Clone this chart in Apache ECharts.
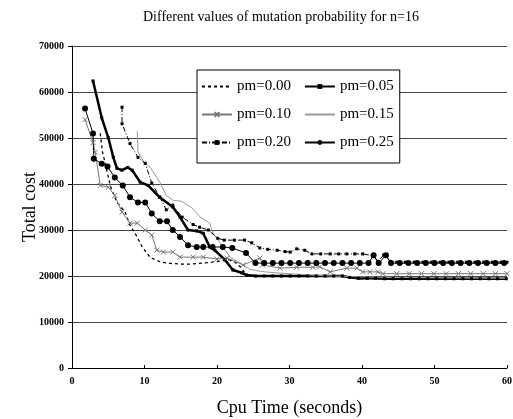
<!DOCTYPE html>
<html>
<head>
<meta charset="utf-8">
<script src="https://cdn.jsdelivr.net/npm/echarts@6/dist/echarts.min.js"></script>
<style>
	html, body { margin: 0; padding: 0; background: #fff; }
	#chart { width: 513px; height: 419px; }
</style>
</head>
<body>
<div id="chart"></div>
<script>
// tick labels
var xTicks = [0, 10, 20, 30, 40, 50, 60];
var yTicks = [0, 10000, 20000, 30000, 40000, 50000, 60000, 70000];
var names = ['pm=0.00', 'pm=0.05', 'pm=0.10', 'pm=0.15', 'pm=0.20', 'pm=0.25'];

// [cpu time (s), total cost]
var pm000 = [
	[3.9, 51000], [4.2, 47000], [4.8, 43000], [5.3, 39500], [6.2, 36000], [7.3, 34000],
	[8.0, 31000], [8.8, 29000], [9.7, 26300], [10.8, 24000], [12.3, 23000], [13.8, 22700],
	[15.2, 22600], [16.5, 22600], [17.9, 22800], [19.3, 23000], [20.6, 23300], [21.5, 23500],
	[22.3, 23300], [23.2, 22000], [24.1, 20200], [26, 20000], [30, 20000], [34, 20000],
	[37, 20000], [38.5, 19600], [40, 19400], [50, 19400], [60, 19400]
];
var pm005 = [
	[2.9, 62400], [4.1, 54400], [5.0, 50100], [5.7, 45800], [6.2, 43400], [6.9, 43000],
	[7.7, 43600], [8.3, 43000], [9.4, 40400], [10.5, 39700], [12.1, 37100], [13.9, 35000],
	[14.9, 32800], [16.0, 30000], [17.2, 29800], [18.1, 29300], [19.0, 26300], [19.7, 25600],
	[21.1, 23500], [22.2, 21300], [23.4, 20700], [24.1, 20200], [25.3, 20000], [26.5, 20000],
	[27.7, 20000], [28.9, 20000], [30.1, 20000], [31.3, 20000], [32.5, 20000], [33.7, 20000],
	[34.9, 20000], [36.1, 20000], [37.3, 20000], [38.3, 19700], [39.5, 19500], [40.7, 19500],
	[41.9, 19500], [43.1, 19400], [44.3, 19400], [45.5, 19400], [46.7, 19400], [47.9, 19400],
	[49.1, 19400], [50.3, 19400], [51.5, 19400], [52.7, 19400], [53.9, 19400], [55.1, 19400],
	[56.3, 19400], [57.5, 19400], [58.7, 19400], [59.9, 19400]
];
var pm010 = [
	[1.8, 54000], [2.9, 49000], [3.2, 46900], [3.9, 39700], [5.0, 39300], [5.9, 37500],
	[6.9, 33900], [8.0, 31500], [9.0, 31500], [10.1, 30000], [11.0, 28900], [11.7, 25600],
	[12.6, 25200], [13.9, 25200], [14.9, 24100], [16.7, 24100], [18.1, 24100], [20.0, 23700],
	[21.4, 23900], [23.6, 22400], [25.9, 23900], [26.3, 22400], [28.7, 21700], [31.0, 21900],
	[33.2, 21900], [34.2, 22000], [35.6, 20900], [37.9, 21700], [39.3, 21700], [40.1, 20900],
	[41.1, 20900], [42.2, 20900], [42.9, 20500], [44.8, 20500], [46.5, 20500], [48.2, 20500],
	[49.9, 20500], [51.6, 20500], [53.3, 20500], [55.0, 20500], [56.7, 20500], [58.4, 20500],
	[60, 20500]
];
var pm015 = [
	[9.0, 51500], [9.1, 47000], [10.0, 44500], [10.8, 43600], [12.1, 40400], [13.0, 37500],
	[14.0, 36400], [15.0, 36300], [16.4, 35000], [17.7, 32800], [19.0, 31500], [19.4, 29500],
	[20.8, 26300], [21.8, 24100], [23.2, 22800], [24.5, 21500], [26, 21000], [28, 20700],
	[30, 20500], [33, 20200], [36, 20000], [40, 19800], [45, 19700], [50, 19600], [60, 19500]
];
var pm020 = [
	[6.9, 56700], [6.9, 53100], [8.0, 48800], [9.1, 45800], [10.1, 44500], [11.0, 40200],
	[12.1, 37200], [13.0, 34400], [13.9, 35400], [15.2, 32800], [16.7, 31200], [17.6, 30600],
	[18.8, 30000], [20.1, 28200], [21.0, 27800], [22.4, 27800], [23.8, 27800], [24.8, 27200],
	[25.9, 26100], [27.0, 25800], [28.3, 25600], [29.4, 25300], [30.1, 25200], [31.0, 25900],
	[32.1, 25600], [33.1, 24800], [34.3, 24800], [35.6, 24800], [36.8, 24800], [37.9, 24800],
	[39.0, 24800], [40.1, 24800], [41.5, 24400], [42.2, 23200], [43.0, 24600], [43.9, 23200],
	[44.8, 23000], [46.0, 23000], [47.2, 23000], [48.4, 23000], [49.6, 23000], [50.8, 23000],
	[52.0, 23000], [53.2, 23000], [54.4, 23000], [55.6, 23000], [56.8, 23000], [58.0, 23000],
	[59.2, 23000], [60, 23000]
];
var pm025 = [
	[1.8, 56400], [2.9, 51000], [3.0, 45500], [4.1, 44400], [4.9, 43800], [5.9, 41400],
	[7.0, 39700], [8.0, 37100], [9.1, 36000], [10.1, 36000], [11.0, 33600], [12.1, 31900],
	[13.1, 31900], [13.9, 30000], [14.9, 28500], [16.0, 26700], [17.2, 26300], [18.1, 26300],
	[19.4, 26300], [20.8, 26300], [22.1, 26100], [24.0, 25000], [25.3, 22800], [26.5, 22800],
	[27.7, 22800], [28.9, 22800], [30.1, 22800], [31.3, 22800], [32.5, 22800], [33.7, 22800],
	[34.9, 22800], [36.1, 22800], [37.3, 22800], [38.5, 22800], [39.7, 22800], [40.9, 22800],
	[41.6, 24500], [42.3, 22800], [43.3, 24500], [44.0, 22800], [45.2, 22800], [46.4, 22800],
	[47.6, 22800], [48.8, 22800], [50.0, 22800], [51.2, 22800], [52.4, 22800], [53.6, 22800],
	[54.8, 22800], [56.0, 22800], [57.2, 22800], [58.4, 22800], [59.6, 22800]
];

var serif = '"Liberation Serif", "DejaVu Serif", serif';
var noMark = { color: 'rgba(0,0,0,0)', borderWidth: 0 };
var chart = echarts.init(document.getElementById('chart'));
var option = {
	animation: false,
	backgroundColor: '#fff',
	title: {
		text: 'Different values of mutation probability for n=16',
		left: 138,
		top: 5,
		textStyle: {
			fontFamily: serif,
			fontSize: 14,
			fontWeight: 'normal',
			color: '#000'
		}
	},
	grid: {
		left: 72,
		right: 6,
		top: 46,
		bottom: 51,
		outerBoundsMode: 'none'
	},
	legend: {
		data: [
			{ name: names[0], itemStyle: noMark },
			{ name: names[1] },
			{ name: names[2] },
			{ name: names[3], itemStyle: noMark },
			{ name: names[4] },
			{ name: names[5] }
		],
		left: 197,
		top: 70,
		width: 200,
		padding: [9, 6, 13, 4],
		itemWidth: 30,
		itemHeight: 6,
		itemGap: 13,
		backgroundColor: '#fff',
		borderColor: '#000',
		borderWidth: 1,
		borderRadius: 0,
		textStyle: {
			fontFamily: serif,
			fontSize: 15,
			color: '#000'
		}
	},
	xAxis: {
		type: 'value',
		min: xTicks[0],
		max: xTicks[xTicks.length - 1],
		interval: 10,
		name: 'Cpu Time (seconds)',
		nameLocation: 'middle',
		nameGap: 31,
		nameMoveOverlap: false,
		nameTextStyle: { fontFamily: serif, fontSize: 18, color: '#000' },
		axisLine: { lineStyle: { color: '#000', width: 1 } },
		axisTick: { inside: true, length: 3, lineStyle: { color: '#000' } },
		axisLabel: { fontFamily: serif, fontSize: 10, fontWeight: 'bold', color: '#000', margin: 8 },
		splitLine: { show: false }
	},
	yAxis: {
		type: 'value',
		min: yTicks[0],
		max: yTicks[yTicks.length - 1],
		interval: 10000,
		name: 'Total cost',
		nameLocation: 'middle',
		nameGap: 33,
		nameMoveOverlap: false,
		nameTextStyle: { fontFamily: serif, fontSize: 18, color: '#000' },
		axisLine: { show: true, lineStyle: { color: '#000', width: 1 } },
		axisTick: { show: true, length: 4, lineStyle: { color: '#000' } },
		axisLabel: {
			fontFamily: serif, fontSize: 10, fontWeight: 'bold', color: '#000', margin: 8,
			formatter: function (v) { return String(v); }
		},
		splitLine: { lineStyle: { color: '#444', width: 1 } }
	},
	series: [{
		name: names[0],
		type: 'line',
		data: pm000,
		symbol: 'none',
		lineStyle: { color: '#000', width: 1.3, type: [3, 3] },
		itemStyle: { color: '#000' }
	}, {
		name: names[1],
		type: 'line',
		data: pm005,
		symbol: 'rect',
		symbolSize: 3,
		lineStyle: { color: '#000', width: 2.5 },
		itemStyle: { color: '#000' }
	}, {
		name: names[2],
		type: 'line',
		data: pm010,
		symbol: 'path://M0,0L10,10M10,0L0,10',
		symbolSize: 5,
		lineStyle: { color: '#777', width: 1 },
		itemStyle: { color: 'none', borderColor: '#777', borderWidth: 1 }
	}, {
		name: names[3],
		type: 'line',
		data: pm015,
		symbol: 'none',
		lineStyle: { color: '#999', width: 1 },
		itemStyle: { color: '#999' }
	}, {
		name: names[4],
		type: 'line',
		data: pm020,
		symbol: 'rect',
		symbolSize: 3,
		lineStyle: { color: '#000', width: 1, type: [5, 2, 1, 2] },
		itemStyle: { color: '#000' }
	}, {
		name: names[5],
		type: 'line',
		data: pm025,
		symbol: 'circle',
		symbolSize: 6,
		lineStyle: { color: '#000', width: 1 },
		itemStyle: { color: '#000' }
	}]
};
chart.setOption(option);
</script>
</body>
</html>
